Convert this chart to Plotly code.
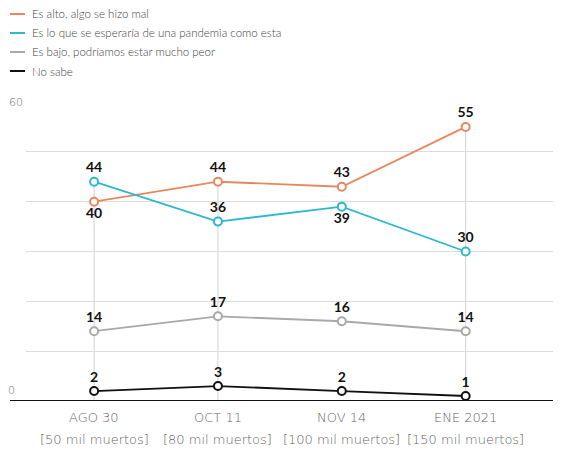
import plotly.graph_objects as go

dates = ["AGO 30", "OCT 11", "NOV 14", "ENE 2021"]
deaths = ["[50 mil muertos]", "[80 mil muertos]", "[100 mil muertos]", "[150 mil muertos]"]
series_names = ["Es alto, algo se hizo mal",
                "Es lo que se esperaría de una pandemia como esta",
                "Es bajo, podríamos estar mucho peor",
                "No sabe"]
alto = [40, 44, 43, 55]
esperaria = [44, 36, 39, 30]
bajo = [14, 17, 16, 14]
no_sabe = [2, 3, 2, 1]
y_labels = ["0", "60"]

label_pos = [
    ["bottom center", "top center", "top center", "top center"],
    ["top center", "top center", "bottom center", "top center"],
    ["top center"] * 4,
    ["top center"] * 4,
]
colors = ["#E8875F", "#2DB8D2", "#A9A9A9", "#111111"]
values = [alto, esperaria, bajo, no_sabe]
x = list(range(len(dates)))

W, H = 553, 441
L, T, PW, PH = 18, 94, 535, 299
B = H - T - PH


def px_x(p):
    return (p - L) / PW


def px_y(p):
    return (T + PH - p) / PH


fig = go.Figure()

# drop lines at selected categories
for i in [0, 1, 3]:
    top = max(v[i] for v in values)
    fig.add_shape(type="line", x0=x[i], x1=x[i], y0=0, y1=top,
                  line=dict(color="#D0D0D0", width=1), layer="below")

for name, vals, col, pos in zip(series_names, values, colors, label_pos):
    fig.add_trace(go.Scatter(
        x=x, y=vals, mode="lines+markers+text", text=[str(v) for v in vals],
        textposition=pos, textfont=dict(family="Lato", size=14, color="#111", weight="bold"),
        line=dict(color=col, width=1.8),
        marker=dict(symbol="circle", size=8, color="white", line=dict(color=col, width=2)),
        showlegend=False, cliponaxis=False))

# manual legend
for k, (name, col) in enumerate(zip(series_names, colors)):
    py = 6 + 19 * k
    fig.add_shape(type="line", xref="paper", yref="paper",
                  x0=px_x(2), x1=px_x(17), y0=px_y(py), y1=px_y(py),
                  line=dict(color=col, width=2))
    fig.add_annotation(xref="paper", yref="paper", x=px_x(22), y=px_y(py),
                       xanchor="left", yanchor="middle", showarrow=False,
                       text=name, font=dict(family="Lato", size=11.5, color="#444", weight=300))

# x labels
for i in x:
    fig.add_annotation(xref="x", yref="paper", x=x[i], y=px_y(409), yanchor="middle",
                       showarrow=False, text=dates[i],
                       font=dict(family="DejaVu Sans", size=13, color="#666", weight=200))
    fig.add_annotation(xref="x", yref="paper", x=x[i], y=px_y(431), yanchor="middle",
                       showarrow=False, text=deaths[i],
                       font=dict(family="DejaVu Sans", size=13, color="#666", weight=200))

# y labels
fig.add_annotation(xref="paper", yref="y", x=px_x(9), y=0, yshift=2, xanchor="right",
                   yanchor="bottom", showarrow=False, text=y_labels[0],
                   font=dict(family="DejaVu Sans", size=11, color="#666", weight=200))
fig.add_annotation(xref="paper", yref="y", x=px_x(17), y=60, xanchor="right",
                   yanchor="middle", showarrow=False, text=y_labels[1],
                   font=dict(family="DejaVu Sans", size=11, color="#666", weight=200))

fig.add_shape(type="line", xref="paper", yref="y", x0=px_x(2), x1=1, y0=0, y1=0,
              line=dict(color="#111", width=2))

fig.update_layout(
    width=W, height=H,
    margin=dict(l=L, r=0, t=T, b=B),
    paper_bgcolor="white", plot_bgcolor="white",
    font=dict(family="Lato", color="#555", size=12),
    showlegend=False,
    xaxis=dict(range=[-0.55, 3.77], showticklabels=False,
               showgrid=False, zeroline=False, showline=False, ticks=""),
    yaxis=dict(range=[0, 60], tickmode="array", tickvals=[0, 10, 20, 30, 40, 50, 60],
               showticklabels=False, showgrid=True,
               gridcolor="#DCDCDC", zeroline=False, showline=False, ticks=""),
)

fig.write_html("out.html")
